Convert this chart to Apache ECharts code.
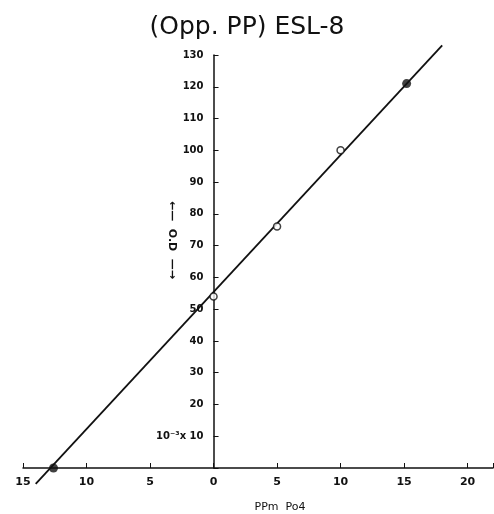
<!DOCTYPE html>
<html>
<head>
<meta charset="utf-8">
<script src="https://cdn.jsdelivr.net/npm/echarts@6/dist/echarts.min.js"></script>
<style>
  html, body { margin: 0; padding: 0; background: #fff; }
  #main { width: 494px; height: 514px; }
</style>
</head>
<body>
<div id="main"></div>
<script>
// 测量点 (ppm PO4, O.D x 10^-3)
var openPts = [[0, 54], [5, 76], [10, 100]]
var filledPts = [[-12.6, 0], [15.2, 121]]
// 拟合直线两端
var fitLine = [[-14, -5], [18, 133]]
var xTicks = [-15, -10, -5, 0, 5, 10, 15, 20]
var yTicks = [10, 20, 30, 40, 50, 60, 70, 80, 90, 100, 110, 120, 130]

var chart = echarts.init(document.getElementById('main'))
var font = 'DejaVu Sans'
var option = {
  backgroundColor: '#fff',
  animation: false,
  title: {
    text: '(Opp. PP) ESL-8',
    left: 'center',
    top: 10,
    textStyle: { fontFamily: font, fontSize: 25, fontWeight: 'normal', color: '#111' }
  },
  grid: { left: 23, right: 1, top: 55, bottom: 46, containLabel: false, outerBoundsMode: 'none' },
  xAxis: {
    type: 'value',
    min: -15,
    max: 22,
    interval: 5,
    splitLine: { show: false },
    axisLine: { onZero: true, lineStyle: { color: '#111', width: 1.5 } },
    axisTick: { inside: true, length: 5, lineStyle: { color: '#111' } },
    axisLabel: {
      margin: 9,
      fontFamily: font, fontSize: 11, fontWeight: 'bold', color: '#111',
      formatter: function (v) {
        if (v > 20 || xTicks.indexOf(v) < 0) return ''
        return String(Math.abs(v))
      }
    }
  },
  yAxis: {
    type: 'value',
    min: 0,
    max: 130,
    interval: 10,
    offset: 0,
    splitLine: { show: false },
    axisLine: { onZero: false, lineStyle: { color: '#111', width: 1.5 } },
    axisTick: { inside: true, length: 5, lineStyle: { color: '#111' } },
    axisLabel: {
      margin: 10,
      fontFamily: font, fontSize: 10, fontWeight: 'bold', color: '#111',
      formatter: function (v) {
        if (yTicks.indexOf(v) < 0) return ''
        if (v === 10) return '10⁻³x 10'
        return String(v)
      }
    }
  },
  graphic: [
    {
      type: 'text',
      x: 172, y: 240,
      rotation: -Math.PI / 2,
      style: {
        text: '←—  O.D  —→',
        fontFamily: font, fontSize: 11, fontWeight: 'bold', fill: '#111',
        align: 'center', verticalAlign: 'middle'
      }
    },
    {
      type: 'text',
      x: 280, y: 507,
      style: {
        text: 'PPm  Po4',
        fontFamily: font, fontSize: 11, fill: '#111',
        align: 'center', verticalAlign: 'middle'
      }
    }
  ],
  series: [
    {
      type: 'line',
      data: fitLine,
      clip: false,
      showSymbol: false,
      lineStyle: { color: '#111', width: 1.8 },
      z: 2
    },
    {
      type: 'scatter',
      data: openPts,
      symbol: 'circle',
      symbolSize: 7,
      itemStyle: { color: '#fff', borderColor: '#111', borderWidth: 1.5 },
      z: 3
    },
    {
      type: 'scatter',
      data: filledPts,
      symbol: 'circle',
      symbolSize: 9,
      itemStyle: { color: '#111' },
      z: 3
    }
  ]
}
chart.setOption(option)
// 把纵轴整体(轴线、刻度、标签)移到 x = 0 处
var zeroX = chart.convertToPixel({ xAxisIndex: 0 }, 0)
chart.setOption({ yAxis: { offset: -(zeroX - 23) } })
</script>
</body>
</html>
